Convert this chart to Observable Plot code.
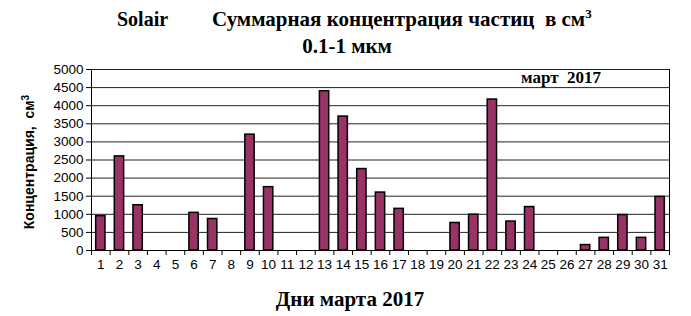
<!DOCTYPE html>
<html>
<head>
<meta charset="utf-8">
<script src="https://cdn.jsdelivr.net/npm/d3@7"></script>
<script src="https://cdn.jsdelivr.net/npm/@observablehq/plot@0.6"></script>
<style>
  body { margin: 0; background: #fff; }
  #wrap { position: relative; width: 691px; height: 316px; overflow: hidden; }
  .t { position: absolute; white-space: pre; line-height: 1; }
  .c { transform: translate(-50%, -50%); }
  .l { transform: translate(0, -50%); }
  .serif { font-family: "Liberation Serif", "Times New Roman", serif; font-weight: bold; color: #000; }
  .sans { font-family: "Liberation Sans", Arial, sans-serif; font-weight: bold; color: #000; }
  #chart { position: absolute; left: 0; top: 0; }
</style>
</head>
<body>
<div id="wrap">
  <div id="chart"></div>
  <div class="t l serif" style="left:117px; top:19px; font-size:20px;">Solair</div>
  <div class="t l serif" style="left:212px; top:19px; font-size:21px;">Суммарная концентрация частиц  в см<sup style="font-size:13px;vertical-align:8px;line-height:0">3</sup></div>
  <div class="t c serif" style="left:347px; top:46px; font-size:21px;">0.1-1 мкм</div>
  <div class="t c serif" style="left:561px; top:77px; font-size:17px;">март  2017</div>
  <div class="t c serif" style="left:350px; top:299px; font-size:21px;">Дни марта 2017</div>
  <div class="t c sans" style="left:29px; top:162px; font-size:14px; transform: translate(-50%, -50%) rotate(-90deg);">Концентрация,  см<sup style="font-size:10px;vertical-align:5px;line-height:0">3</sup></div>
</div>
<script>
const days = d3.range(1, 32);
const values = [950, 2600, 1250, 0, 0, 1040, 870, 0, 3200, 1750, 0, 0, 4400, 3700, 2250, 1600, 1150, 0, 0, 760, 990, 4170, 800, 1200, 0, 0, 150, 350, 980, 350, 1480];
const yTicks = d3.range(0, 5001, 500);

const data = days.map((d, i) => ({day: d, value: values[i]})).filter(d => d.value > 0);
const bounds = d3.range(0.5, 32, 1);

const chart = Plot.plot({
  width: 691,
  height: 316,
  marginTop: 69,
  marginBottom: 66,
  marginLeft: 91,
  marginRight: 22,
  style: {fontFamily: "'Liberation Sans', Arial, sans-serif", fontSize: "13.5px", color: "#000", background: "#fff"},
  x: {type: "linear", domain: [0.5, 31.5]},
  y: {domain: [0, 5000]},
  marks: [
    Plot.gridY(yTicks, {stroke: "#222", strokeOpacity: 1, strokeWidth: 1}),
    Plot.ruleX([0.5, 31.5], {stroke: "#000", strokeWidth: 1}),
    Plot.ruleY([0], {stroke: "#000", strokeWidth: 1}),
    Plot.rectY(data, {x1: d => d.day - 0.25, x2: d => d.day + 0.25, y: "value", fill: "#993366", stroke: "#000", strokeWidth: 1.5}),
    Plot.axisY({ticks: yTicks, tickSize: 5, tickPadding: 3, label: null, fontSize: 13.5, tickFormat: d => String(d)}),
    Plot.axisX({ticks: bounds, tickSize: 5, tickFormat: () => "", label: null}),
    Plot.axisX({ticks: days, tickSize: 0, tickPadding: 9, tickFormat: d => String(d), label: null, fontSize: 13.5})
  ]
});
document.getElementById("chart").appendChild(chart);
</script>
</body>
</html>
